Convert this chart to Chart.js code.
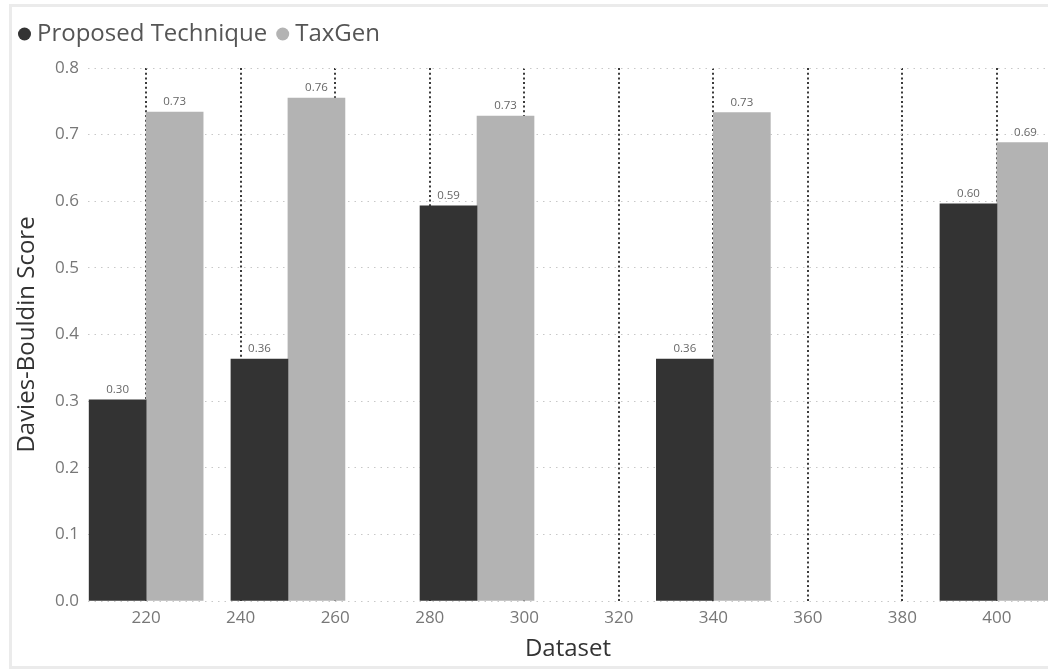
<!DOCTYPE html>
<html>
<head>
<meta charset="utf-8">
<script src="https://cdn.jsdelivr.net/npm/chart.js@4/dist/chart.umd.min.js"></script>
<style>
html,body{margin:0;padding:0;background:#fff;overflow:hidden;width:1048px;height:669px;}
#frame{position:absolute;left:9px;top:4px;width:2000px;height:659px;border:3px solid #ebebeb;}
#wrap{position:absolute;left:0;top:0;width:1048px;height:669px;}
</style>
</head>
<body>
<div id="frame"></div>
<div id="wrap"><canvas id="c" width="1048" height="669"></canvas></div>
<script>
// ---- data ----
const datasetSizes = [220, 250, 290, 340, 400];
const proposedScores = [0.302, 0.363, 0.593, 0.363, 0.596];
const taxgenScores = [0.734, 0.755, 0.728, 0.733, 0.688];
const seriesNames = ['Proposed Technique', 'TaxGen'];
const xTickValues = [220, 240, 260, 280, 300, 320, 340, 360, 380, 400];
const yTickValues = [0, 0.1, 0.2, 0.3, 0.4, 0.5, 0.6, 0.7, 0.8];

const FONT = "'Open Sans', 'Liberation Sans', sans-serif";

const toPoints = (vals) => datasetSizes.map((x, i) => ({x: x, y: vals[i]}));

const legendHeightPlugin = {
  id: 'legendHeight',
  beforeLayout(chart) {
    const lg = chart.legend;
    if (lg && !lg._patchedFit) {
      const f = lg.fit;
      lg.fit = function () { f.call(this); this.height = 61; };
      lg._patchedFit = true;
    }
  }
};

const valueLabelPlugin = {
  id: 'valueLabels',
  afterDatasetsDraw(chart) {
    const ctx = chart.ctx;
    ctx.save();
    ctx.font = "11.5px " + FONT;
    ctx.fillStyle = '#666';
    ctx.textAlign = 'center';
    ctx.textBaseline = 'alphabetic';
    chart.data.datasets.forEach((ds, di) => {
      const meta = chart.getDatasetMeta(di);
      meta.data.forEach((el, i) => {
        const v = ds.data[i].y;
        ctx.fillText(v.toFixed(2), el.x, el.y - 7);
      });
    });
    ctx.restore();
  }
};

new Chart(document.getElementById('c'), {
  type: 'bar',
  data: {
    datasets: [
      {label: seriesNames[0], data: toPoints(proposedScores), backgroundColor: '#333333', borderWidth: 0},
      {label: seriesNames[1], data: toPoints(taxgenScores), backgroundColor: '#b3b3b3', borderWidth: 0}
    ]
  },
  options: {
    responsive: false,
    animation: false,
    barThickness: 57,
    layout: {padding: {left: 9, top: 7, right: 0, bottom: 1}},
    plugins: {
      legend: {
        display: true,
        position: 'top',
        align: 'start',
        labels: {
          usePointStyle: true,
          pointStyle: 'circle',
          boxWidth: 1,
          boxHeight: 9.2,
          padding: 15,
          color: '#555',
          font: {family: FONT, size: 24}
        }
      },
      tooltip: {enabled: false}
    },
    scales: {
      x: {
        type: 'linear',
        min: 207.7,
        max: 410.8,
        offset: false,
        afterBuildTicks(scale) { scale.ticks = xTickValues.map(v => ({value: v})); },
        afterFit(scale) { scale.height = 67; },
        ticks: {
          color: '#777',
          font: {family: FONT, size: 17},
          padding: 7,
          maxRotation: 0,
          autoSkip: false,
          callback: (v) => String(v)
        },
        grid: {
          display: true,
          color: '#3a3a3a',
          lineWidth: 2,
          drawTicks: false,
          offset: false,
          borderDash: [2, 2.7]
        },
        border: {display: false, dash: [2, 2.7]},
        title: {
          display: true,
          text: 'Dataset',
          color: '#333',
          font: {family: FONT, size: 24},
          padding: {top: 4, bottom: 4}
        }
      },
      y: {
        min: 0,
        max: 0.8,
        afterBuildTicks(scale) { scale.ticks = yTickValues.map(v => ({value: v})); },
        afterFit(scale) { scale.width = 79; },
        ticks: {
          color: '#777',
          font: {family: FONT, size: 17},
          padding: 9,
          callback: (v) => Number(v).toFixed(1)
        },
        grid: {
          color: '#c8c8c8',
          lineWidth: 1,
          drawTicks: false,
          borderDash: [1.5, 5]
        },
        border: {display: false, dash: [1.5, 5]},
        title: {
          display: true,
          text: 'Davies-Bouldin Score',
          color: '#333',
          font: {family: FONT, size: 24},
          padding: {top: 4, bottom: 4}
        }
      }
    }
  },
  plugins: [legendHeightPlugin, valueLabelPlugin]
});
</script>
</body>
</html>
